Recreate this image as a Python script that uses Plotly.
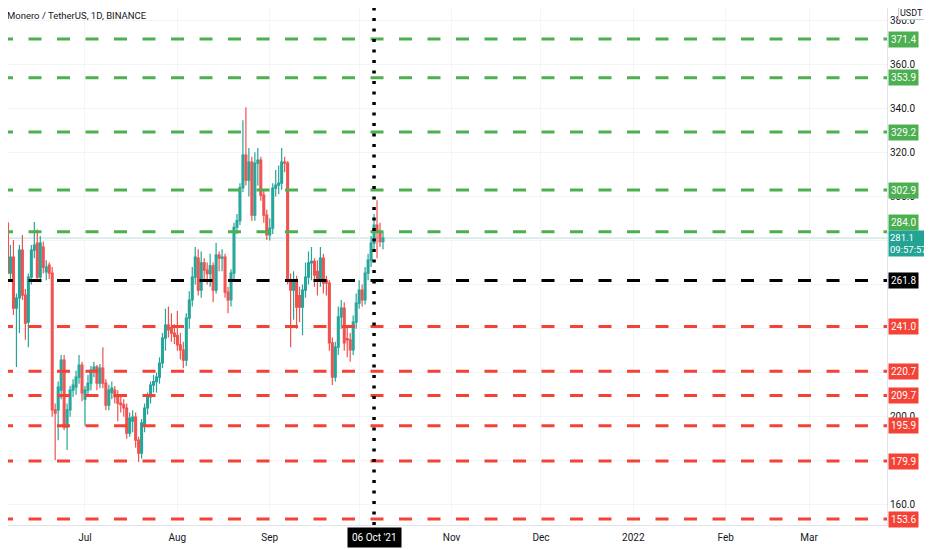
import pandas as pd
import plotly.graph_objects as go

# ---------------- data ----------------
start_date = "2021-06-03"
opens = [291.5, 310.6, 287.9, 265.2, 272.5, 249.3, 253.9, 275.6, 255.2, 243.0,
         263.4, 275.6, 278.8, 263.4, 277.0, 265.7, 268.8, 265.2, 203.1, 203.1,
         212.1, 225.7, 195.3, 203.1, 212.1, 213.5, 218.0, 223.5, 208.0, 212.1,
         215.3, 221.2, 222.5, 215.3, 222.1, 215.3, 205.3, 211.0, 212.1, 209.9,
         206.2, 205.5, 204.0, 192.6, 198.0, 199.9, 189.4, 183.5, 196.3, 204.0,
         209.0, 214.4, 216.0, 218.0, 224.4, 235.7, 241.6, 240.5, 238.0, 237.0,
         232.6, 230.3, 225.7, 244.8, 253.0, 263.4, 272.0, 257.5, 269.8, 266.6,
         265.0, 268.5, 257.5, 273.4, 272.0, 272.5, 256.6, 253.0, 265.2, 286.0,
         289.0, 304.0, 318.8, 307.4, 315.6, 291.5, 315.1, 316.5, 300.6, 291.5,
         282.5, 285.6, 303.8, 305.1, 306.0, 315.6, 315.1, 262.0, 257.5, 262.0,
         255.0, 249.8, 257.5, 263.4, 269.8, 270.5, 266.0, 262.0, 272.0, 262.0,
         260.7, 233.5, 218.0, 231.6, 245.3, 249.3, 235.5, 234.9, 230.3, 243.0,
         251.6, 257.5, 253.0, 265.2, 271.1, 278.8, 287.0, 283.5, 279.5]
highs = [316.5, 313.0, 290.0, 277.9, 280.2, 256.0, 277.9, 282.5, 258.0, 265.0,
         278.0, 288.4, 285.0, 282.0, 279.5, 271.0, 270.0, 268.0, 206.0, 216.0,
         228.0, 228.0, 206.0, 214.0, 217.0, 221.0, 228.0, 225.0, 214.0, 219.0,
         223.0, 225.0, 223.5, 224.0, 231.6, 217.0, 214.5, 216.0, 214.0, 212.0,
         209.0, 208.0, 206.0, 202.0, 203.0, 202.0, 191.0, 199.0, 206.0, 211.0,
         216.0, 219.0, 220.0, 227.0, 238.0, 249.0, 250.0, 247.0, 242.0, 248.0,
         238.0, 234.0, 247.0, 257.0, 268.0, 277.0, 276.0, 275.0, 272.0, 270.0,
         274.0, 270.0, 279.0, 275.0, 276.0, 274.0, 259.0, 267.0, 288.0, 292.0,
         306.0, 334.6, 340.5, 322.0, 318.0, 320.0, 322.0, 318.0, 303.0, 294.0,
         290.0, 306.0, 312.0, 314.0, 322.0, 318.0, 316.0, 265.0, 266.0, 264.0,
         259.0, 260.0, 270.0, 275.0, 277.0, 272.0, 271.0, 277.0, 274.0, 264.0,
         262.0, 236.0, 234.0, 250.0, 253.0, 252.0, 241.0, 238.0, 246.0, 256.0,
         262.0, 260.0, 268.0, 274.0, 282.0, 292.0, 298.3, 288.0, 283.5]
lows = [289.3, 284.7, 257.5, 262.0, 246.2, 222.6, 238.0, 253.0, 235.0, 231.6,
        260.0, 272.0, 261.0, 261.0, 265.0, 262.0, 262.5, 200.0, 180.4, 189.4,
        208.0, 194.0, 184.9, 200.0, 209.0, 210.0, 215.0, 207.0, 196.0, 209.0,
        212.0, 218.0, 212.0, 213.0, 213.0, 203.0, 203.0, 208.0, 206.0, 198.0,
        202.0, 200.0, 190.0, 191.0, 193.0, 186.0, 179.5, 181.0, 193.0, 201.0,
        206.0, 211.0, 211.0, 215.0, 222.0, 230.0, 236.0, 234.0, 233.0, 230.0,
        226.0, 222.0, 223.0, 240.0, 250.0, 260.0, 255.0, 254.0, 262.0, 260.0,
        259.0, 252.0, 256.0, 266.0, 266.0, 254.0, 247.0, 250.0, 262.0, 283.0,
        287.0, 302.0, 305.0, 300.0, 289.0, 289.0, 305.0, 298.0, 288.0, 280.2,
        280.0, 283.0, 300.0, 301.0, 303.0, 311.0, 260.0, 231.6, 244.0, 240.0,
        243.0, 237.0, 254.0, 260.0, 262.0, 259.0, 255.0, 259.0, 256.0, 255.0,
        230.0, 214.4, 216.0, 228.0, 240.0, 230.0, 227.0, 225.0, 228.0, 240.0,
        249.0, 250.0, 251.0, 262.0, 268.0, 276.0, 272.0, 277.0, 276.0]
closes = [310.6, 287.9, 265.2, 272.5, 249.3, 253.9, 275.6, 255.2, 242.5, 263.4,
          275.6, 277.9, 263.4, 278.8, 267.9, 267.9, 265.2, 203.1, 201.7, 213.5,
          225.7, 195.3, 203.1, 212.1, 214.4, 218.0, 223.5, 210.8, 212.1, 215.3,
          221.2, 222.5, 215.3, 222.1, 215.3, 205.3, 212.1, 213.0, 209.0, 206.2,
          205.5, 204.0, 192.6, 199.4, 199.9, 189.4, 183.5, 197.2, 204.0, 209.0,
          214.4, 216.0, 218.0, 224.4, 235.7, 241.6, 239.4, 238.0, 236.5, 232.6,
          230.3, 225.7, 244.8, 253.0, 263.4, 272.5, 257.5, 269.8, 266.6, 265.0,
          268.5, 257.5, 273.4, 272.0, 272.5, 256.6, 253.0, 265.2, 286.0, 289.0,
          304.0, 318.8, 307.4, 315.6, 291.5, 315.1, 316.5, 300.6, 291.5, 282.5,
          285.6, 303.8, 305.1, 306.0, 315.6, 315.1, 262.0, 257.5, 262.0, 249.8,
          249.8, 257.5, 263.4, 269.8, 270.5, 264.3, 262.0, 272.0, 260.7, 260.7,
          233.5, 218.0, 231.6, 245.3, 249.3, 233.5, 234.9, 230.3, 243.0, 251.6,
          257.5, 253.0, 265.2, 271.1, 278.8, 287.0, 284.3, 279.5, 281.1]

resistance_levels = [371.4, 353.9, 329.2, 302.9, 284.0]
pivot_level = [261.8]
support_levels = [241.0, 220.7, 209.7, 195.9, 179.9, 153.6]
marker_date = "2021-10-06"
marker_label = "06 Oct '21"
last_price = 281.1
countdown = "09:57:57"
title_text = "Monero / TetherUS, 1D, BINANCE"
currency = "USDT"

month_ticks = ["2021-07-01", "2021-08-01", "2021-09-01", "2021-10-01", "2021-11-01",
               "2021-12-01", "2022-01-01", "2022-02-01", "2022-03-01"]
month_labels = ["Jul", "Aug", "Sep", "", "Nov", "Dec", "2022", "Feb", "Mar"]
price_ticks = [160, 180, 200, 220, 240, 260, 280, 300, 320, 340, 360, 380]
price_labels = ["160.0", "", "200.0", "", "", "", "", "300.0", "320.0", "340.0", "360.0", "380.0"]

# ---------------- styles ----------------
GREEN = "#4caf50"
RED = "#f44336"
UP = "#26a69a"
DOWN = "#ef5350"
TXT = "#131722"
FONT = "Liberation Sans Narrow, Roboto, Arial, sans-serif"
LBL = 10
PLOT_W = 879   # plot width in px (figure is 924 wide, 45 px price scale)
PAGE_PAD = 8   # body margin of the html page

dates = pd.date_range(start_date, periods=len(closes), freq="D")

fig = go.Figure()
fig.add_trace(go.Candlestick(
    x=dates, open=opens, high=highs, low=lows, close=closes,
    increasing=dict(line=dict(color=UP, width=1.2), fillcolor=UP),
    decreasing=dict(line=dict(color=DOWN, width=1.2), fillcolor=DOWN),
    whiskerwidth=0, showlegend=False, hoverinfo="skip",
))

shapes = []
annotations = []

# current price line
shapes.append(dict(type="line", xref="paper", x0=0, x1=1, yref="y", y0=last_price, y1=last_price,
                   line=dict(color="rgba(38,166,154,0.35)", width=1), layer="below"))

x_start = -PAGE_PAD / PLOT_W
level_groups = [(resistance_levels, GREEN), (pivot_level, "#000000"), (support_levels, RED)]
for lv_list, col in level_groups:
    for lv in lv_list:
        shapes.append(dict(type="line", xref="paper", x0=x_start, x1=1, yref="y", y0=lv, y1=lv,
                           line=dict(color=col, width=3, dash="13px,15.5px"), layer="above"))
        # label nudged upward when it would collide with the live price label
        shift = 9 if abs(lv - last_price) < 4 else 0
        annotations.append(dict(x=1, xref="paper", xanchor="left", xshift=1, y=lv, yref="y",
                                yanchor="middle", yshift=shift, text=f"{lv:.1f}", showarrow=False,
                                font=dict(family=FONT, size=LBL, color="white"),
                                bgcolor=col, borderpad=2))

# vertical dotted marker line
shapes.append(dict(type="line", xref="x", x0=marker_date, x1=marker_date, yref="paper", y0=0, y1=1,
                   line=dict(color="#000000", width=3.5, dash="3px,7.5px"), layer="above"))

# current price label
annotations.append(dict(x=1, xref="paper", xanchor="left", xshift=1, y=last_price, yref="y",
                        yanchor="top", yshift=8, align="left",
                        text=f"{last_price:.1f}<br>{countdown}", showarrow=False,
                        font=dict(family=FONT, size=9.5, color="white"),
                        bgcolor="#22a394", borderpad=1))

# date marker label
annotations.append(dict(x=marker_date, xref="x", xanchor="center", y=0, yref="paper", yanchor="top",
                        yshift=-2, text=marker_label, showarrow=False,
                        font=dict(family=FONT, size=LBL, color="white"),
                        bgcolor="#000000", borderpad=4))

# title
annotations.append(dict(x=0, xref="paper", xanchor="left", xshift=-3, y=1, yref="paper", yanchor="top",
                        yshift=0, text=title_text, showarrow=False,
                        font=dict(family=FONT, size=9.5, color=TXT)))

# currency box
annotations.append(dict(x=1, xref="paper", xanchor="left", xshift=11, y=1, yref="paper", yanchor="top",
                        yshift=2, text=currency, showarrow=False,
                        font=dict(family=FONT, size=9, color=TXT),
                        bgcolor="white", bordercolor="#c5c8d0", borderwidth=1, borderpad=1))

# the page adds an 8px body margin, so the figure is 8px smaller than the window
fig.update_layout(
    width=924, height=542,
    margin=dict(l=0, r=45, t=0, b=25),
    paper_bgcolor="white", plot_bgcolor="white",
    font=dict(family=FONT, size=LBL, color=TXT),
    boxgap=0.12,
    shapes=shapes, annotations=annotations,
    xaxis=dict(range=["2021-06-05 04:00", "2022-03-27 03:00"], rangeslider=dict(visible=False),
               tickvals=month_ticks, ticktext=month_labels, showgrid=True, gridcolor="#f3f4f8",
               showline=True, linecolor="#e0e3eb", linewidth=1, ticks="", zeroline=False,
               ticklabelstandoff=3, tickfont=dict(size=LBL, color=TXT)),
    yaxis=dict(range=[150.9, 385.5], side="right", tickvals=price_ticks, ticktext=price_labels,
               showgrid=True, gridcolor="#f3f4f8", showline=True, linecolor="#e0e3eb", linewidth=1,
               ticks="", zeroline=False, tickfont=dict(size=LBL, color=TXT)),
)

fig.write_html("out.html")
